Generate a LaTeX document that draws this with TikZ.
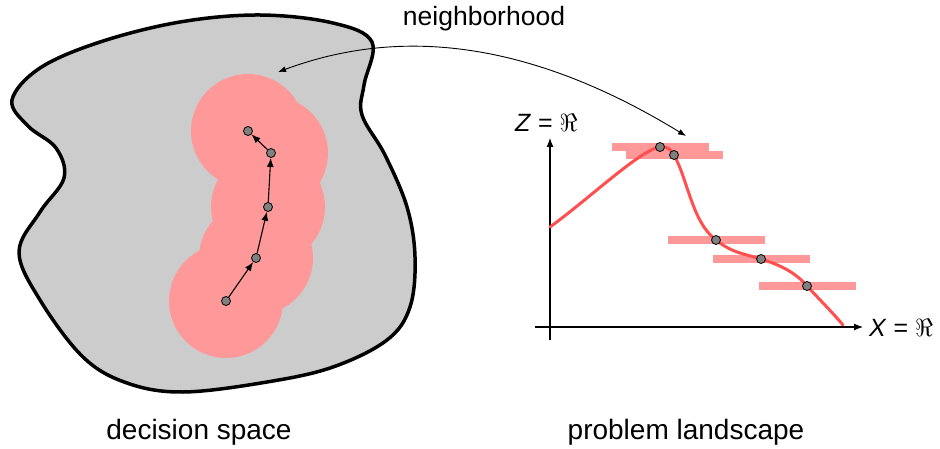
\documentclass[tikz,border=0pt]{standalone}
\usepackage{fontspec}
\setmainfont{Liberation Sans}
\usepackage{tikz}
\usetikzlibrary{calc,arrows.meta}
\definecolor{blobgray}{HTML}{CCCCCC}
\definecolor{hoodpink}{HTML}{FF9999}
\definecolor{curvered}{HTML}{FF4F4F}
\definecolor{dotgray}{HTML}{808080}
\tikzset{
  pt/.style={circle, draw, line width=0.8pt, fill=dotgray, minimum size=9pt, inner sep=0pt},
  hood/.style={fill=hoodpink, draw=none},
  bar/.style={rectangle, fill=hoodpink, minimum width=97pt, minimum height=8pt, inner sep=0pt},
  lbl/.style={font=\fontsize{28}{32}\selectfont, inner sep=0pt},
  axlbl/.style={font=\fontsize{25}{30}\selectfont, inner sep=0pt, anchor=west},
  tip/.style={-{Latex[length=9pt,width=7pt]}, line width=1.1pt}
}

\begin{document}
\begin{tikzpicture}[x=1pt,y=-1pt]
    \useasboundingbox (0,0) rectangle (940,449);
    \def\r{57}
    % decision space
    \filldraw[fill=blobgray, line width=3.5pt, line join=round]
      plot[smooth cycle, tension=0.6] coordinates {
        (12,100) (40,68) (100,42) (180,22) (260,15) (333,23) (372,42)
        (364,85) (362,115) (385,155) (407,207) (415,257) (410,307)
        (387,340) (333,367) (267,382) (183,392) (127,383) (83,357)
        (40,300) (19,252) (40,212) (64,178) (56,148) (28,126)};
    \coordinate (s1) at (226,301);
    \coordinate (s2) at (256,258);
    \coordinate (s3) at (268,207);
    \coordinate (s4) at (271,153);
    \coordinate (s5) at (248,131);
    \foreach \s in {s1,s2,s3,s4,s5}
      \fill[hood] (\s) circle(\r);
    \node[pt] (n1) at (s1) {};
    \node[pt] (n2) at (s2) {};
    \node[pt] (n3) at (s3) {};
    \node[pt] (n4) at (s4) {};
    \node[pt] (n5) at (s5) {};
    \draw[tip] (n1) -- (n2);
    \draw[tip] (n2) -- (n3);
    \draw[tip] (n3) -- (n4);
    \draw[tip] (n4) -- (n5);
    \node[lbl] (ds) at (199,432) {decision space};

    % problem landscape
    \coordinate (o) at (550,327);
    \coordinate (ytop) at (550,138);
    \coordinate (ybot) at (550,340);
    \coordinate (xl) at (535,327);
    \coordinate (xr) at (863,327);
    \draw[tip] (ybot) -- (ytop);
    \draw[tip] (xl) -- (xr);
    \node[axlbl] (zl) at (515,123) {\textit{Z} = $\Re$};
    \node[axlbl] (xlab) at (869,328) {\textit{X} = $\Re$};
    \coordinate (l0) at (550,227);
    \coordinate (l1) at (660,147);
    \coordinate (l2) at (674,155);
    \coordinate (l3) at (716,240);
    \coordinate (l4) at (761,259);
    \coordinate (l5) at (807,286);
    \coordinate (l6) at (843,325);
    \foreach \l in {l1,l2,l3,l4,l5}
      \node[bar] at (\l) {};
    \draw[curvered, line width=3pt, line cap=round]
      (l0) .. controls (590,198) and (640,150) .. (l1)
           .. controls (668,146) and (671,150) .. (l2)
           .. controls (688,180) and (692,222) .. (l3)
           .. controls (732,253) and (745,254) .. (l4)
           .. controls (780,265) and (795,272) .. (l5)
           .. controls (820,300) and (832,312) .. (l6);
    \foreach \l in {l1,l2,l3,l4,l5}
      \node[pt] (m\l) at (\l) {};
    \node[lbl] (pl) at (686,432) {problem landscape};

    % neighborhood
    \coordinate (hl) at (278,72);
    \coordinate (hr) at (686,136);
    \draw[{Latex[length=8pt,width=6pt]}-{Latex[length=8pt,width=6pt]}, line width=0.9pt]
      (hl) .. controls (370,38) and (500,22) .. (hr);
    \node[lbl, font=\fontsize{26.5}{30}\selectfont] (nb) at (484,19) {neighborhood};
  \end{tikzpicture}
\end{document}
